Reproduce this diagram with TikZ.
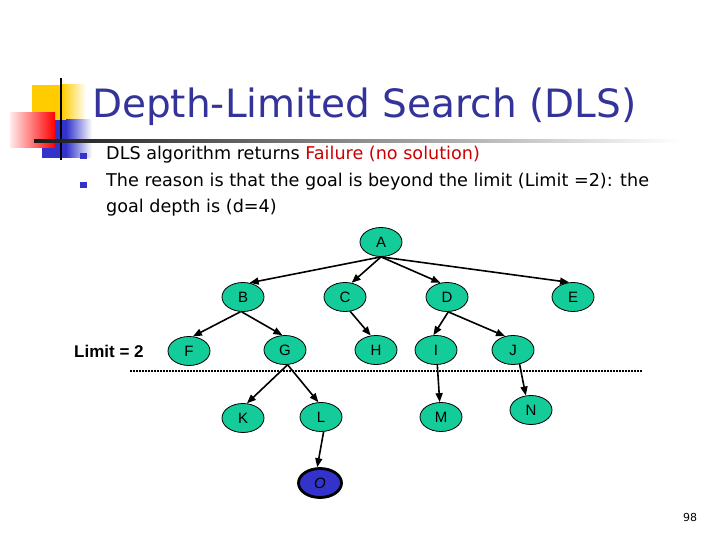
\documentclass[tikz,border=0pt]{standalone}
\usepackage{fontspec}
\setmainfont{DejaVu Sans}
\newfontfamily\arialf{Liberation Sans}
\usetikzlibrary{shapes.geometric,arrows.meta}
\definecolor{titleblue}{RGB}{51,51,153}
\definecolor{nodegreen}{RGB}{20,204,153}
\definecolor{goalblue}{RGB}{51,51,204}
\definecolor{failred}{RGB}{204,0,0}
\definecolor{decoyellow}{RGB}{255,204,0}
\tikzset{
  tnode/.style={ellipse,draw=black,line width=0.8pt,fill=nodegreen,minimum width=42pt,minimum height=29pt,inner sep=0pt,font=\arialf\fontsize{15}{15}\selectfont},
  gnode/.style={ellipse,draw=black,line width=2.8pt,fill=goalblue,minimum width=43pt,minimum height=29pt,inner sep=0pt,font=\arialf\itshape\fontsize{15}{15}\selectfont},
  edge/.style={line width=1.6pt,-{Triangle[length=9pt,width=7pt]}},
  bullettext/.style={anchor=base west,inner sep=0pt,font=\fontsize{17.6}{18}\selectfont},
}
\begin{document}
\begin{tikzpicture}[x=1pt,y=-1pt]
\useasboundingbox (0,0) rectangle (720,540);
% decoration
\fill[decoyellow] (32,85) rectangle (62,120);
\shade[left color=decoyellow,right color=white] (62,85) rectangle (86,120);
\fill[goalblue] (55,120) rectangle (66,158);
\shade[left color=goalblue,right color=white] (66,120) rectangle (92,158);
\fill[goalblue] (42,148) rectangle (62,158);
\shade[left color=red!8,right color=red] (10,113) rectangle (55,148);
\draw[line width=2.5pt] (61,78) -- (61,160);
\shade[left color=black!90,right color=white] (34,140) rectangle (680,142.5);
% title
\node[anchor=base west,inner sep=0pt,text=titleblue,font=\fontsize{39}{39}\selectfont] (title) at (92,118) {Depth-Limited Search (DLS)};
% bullets
\fill[goalblue] (80,153) rectangle (87,159);
\fill[goalblue] (80,182) rectangle (87,188);
\node[bullettext] (b1) at (106,160) {DLS algorithm returns \textcolor{failred}{Failure (no solution)}};
\node[bullettext] (b2) at (106,187) {The reason is that the goal is beyond the limit (Limit =2): the};
\node[bullettext] (b3) at (106,213) {goal depth is (d=4)};
% limit line
\draw[line width=2.5pt,dash pattern=on 2pt off 1pt] (130,371) coordinate (l1) -- (642,371) coordinate (l2);
\node[anchor=base west,inner sep=0pt,font=\arialf\bfseries\fontsize{17}{17}\selectfont] (limit) at (74,357) {Limit = 2};
% tree
\node[tnode] (A) at (381,242) {A};
\node[tnode] (B) at (243,297) {B};
\node[tnode] (C) at (345,297) {C};
\node[tnode] (D) at (447,297) {D};
\node[tnode] (E) at (573,297) {E};
\node[tnode] (F) at (189,351) {F};
\node[tnode] (G) at (285,350) {G};
\node[tnode] (H) at (376,350) {H};
\node[tnode] (I) at (436,350) {I};
\node[tnode] (J) at (513,350) {J};
\node[tnode] (K) at (243,418) {K};
\node[tnode] (L) at (321,417) {L};
\node[tnode] (M) at (441,417) {M};
\node[tnode] (N) at (531,410) {N};
\node[gnode] (O) at (320,483) {O};
\draw[edge] (A.south) -- (B.65);
\draw[edge] (A.south) -- (C.65);
\draw[edge] (A.south) -- (D.115);
\draw[edge] (A.south) -- (E.105);
\draw[edge] (B.-100) -- (F.75);
\draw[edge] (B.-95) -- (G.100);
\draw[edge] (C.-70) -- (H.110);
\draw[edge] (D.-85) -- (I.100);
\draw[edge] (D.-85) -- (J.120);
\draw[edge] (G.-80) -- (K.75);
\draw[edge] (G.-80) -- (L.100);
\draw[edge] (I.-85) -- (M.95);
\draw[edge] (J.-65) -- (N.110);
\draw[edge] (L.-80) -- (O.100);
% page number
\node[anchor=base west,inner sep=0pt,font=\fontsize{11}{11}\selectfont] (pg) at (683,521) {98};
\end{tikzpicture}
\end{document}
